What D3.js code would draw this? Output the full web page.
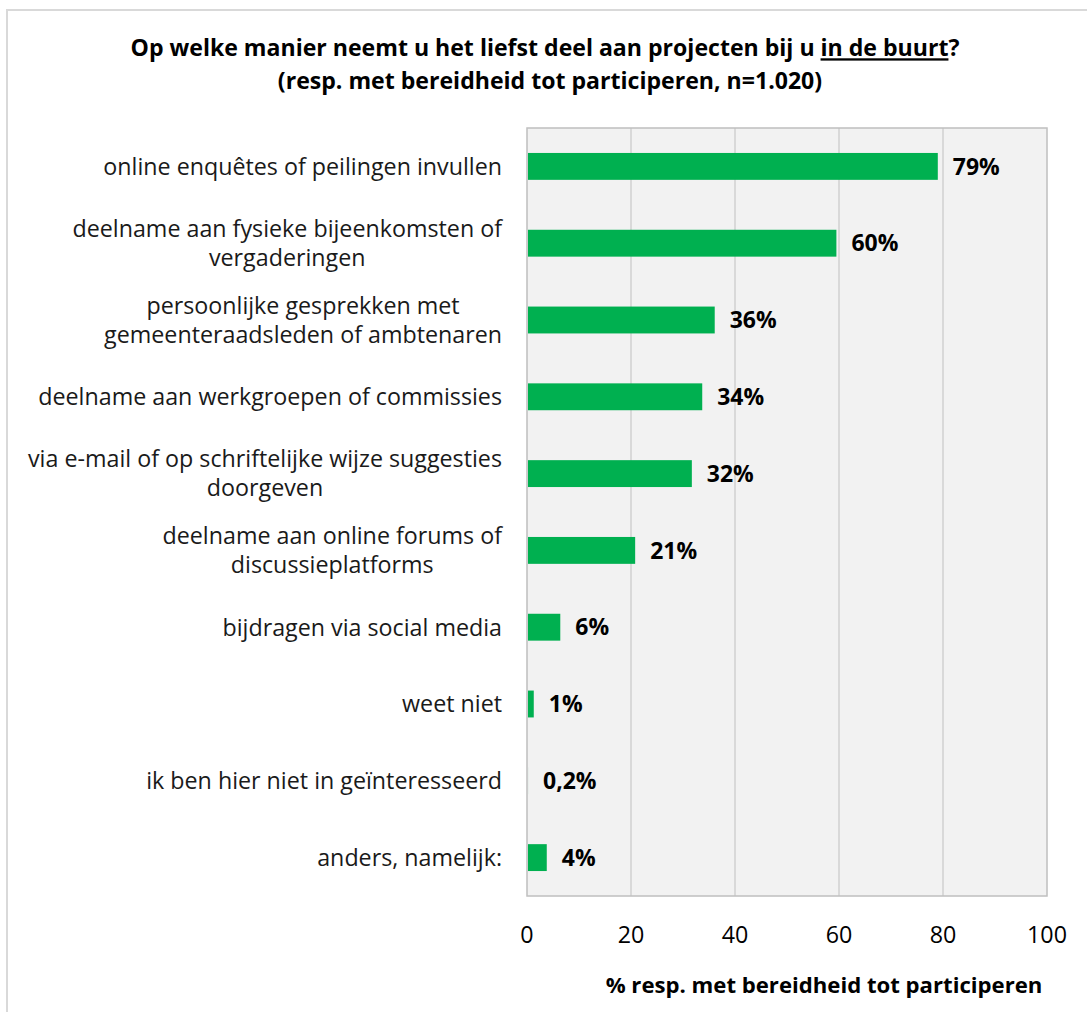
<!DOCTYPE html>
<html><head><meta charset="utf-8">
<script src="https://cdn.jsdelivr.net/npm/d3@7"></script>
<style>body{margin:0;background:#fff}svg{display:block}text{font-family:"Open Sans",sans-serif}</style>
</head><body>
<svg id="c" width="1087" height="1012"></svg>
<script>
const categories = [
  ["online enquêtes of peilingen invullen"],
  ["deelname aan fysieke bijeenkomsten of","vergaderingen"],
  ["persoonlijke gesprekken met","gemeenteraadsleden of ambtenaren"],
  ["deelname aan werkgroepen of commissies"],
  ["via e-mail of op schriftelijke wijze suggesties","doorgeven"],
  ["deelname aan online forums of","discussieplatforms"],
  ["bijdragen via social media"],
  ["weet niet"],
  ["ik ben hier niet in geïnteresseerd"],
  ["anders, namelijk:"]
];
const values = [79.0, 59.5, 36.1, 33.7, 31.7, 20.8, 6.4, 1.3, 0.2, 3.8];
const valueLabels = ["79%","60%","36%","34%","32%","21%","6%","1%","0,2%","4%"];
const xTicks = [0,20,40,60,80,100];
const titleLines = ["Op welke manier neemt u het liefst deel aan projecten bij u ", "in de buurt", "?"];
const subtitle = "(resp. met bereidheid tot participeren, n=1.020)";
const axisTitle = "% resp. met bereidheid tot participeren";

const svg = d3.select("#c");
function fitSize(str, weight, target){
  const t = svg.append("text").attr("font-size",20).attr("font-weight",weight).text(str);
  const w = t.node().getComputedTextLength(); t.remove();
  return 20*target/w;
}
const fsCat = fitSize("online enquêtes of peilingen invullen","normal",399);
const fsTitle = fitSize(titleLines.join(""),"bold",829);
const fsAxis = fitSize(axisTitle,"bold",437);
const fsVal = fitSize("79%","bold",47);

svg.append("path").attr("d","M7,1012 V10 H1087").attr("fill","none").attr("stroke","#d9d9d9").attr("stroke-width",2);

const L=527, R=1047, T=128, B=896;
const x = d3.scaleLinear().domain([0,100]).range([L,R]);
const y = d3.scaleBand().domain(d3.range(categories.length)).range([T,B]).paddingInner(0.65).paddingOuter(0.325);

svg.append("rect").attr("x",L).attr("y",T).attr("width",R-L).attr("height",B-T).attr("fill","#f2f2f2");
svg.append("g").selectAll("line").data(xTicks.slice(1,-1)).join("line")
  .attr("x1",d=>x(d)).attr("x2",d=>x(d)).attr("y1",T).attr("y2",B)
  .attr("stroke","#d9d9d9").attr("stroke-width",2);
svg.append("rect").attr("x",L).attr("y",T).attr("width",R-L).attr("height",B-T)
  .attr("fill","none").attr("stroke","#bfbfbf").attr("stroke-width",1.5);

svg.append("g").selectAll("rect").data(values).join("rect")
  .attr("x",x(0)+1).attr("y",(d,i)=>y(i)).attr("width",d=>Math.max(0,x(d)-x(0)-1)).attr("height",y.bandwidth())
  .attr("fill","#00b050");

svg.append("g").selectAll("text").data(values).join("text")
  .attr("x",d=>x(d)+15).attr("y",(d,i)=>y(i)+y.bandwidth()/2).attr("dy","0.36em")
  .attr("font-size",fsVal).attr("font-weight","bold").attr("fill","#000")
  .text((d,i)=>valueLabels[i]);

const catG = svg.append("g");
categories.forEach((lines,i)=>{
  const cy = y(i)+y.bandwidth()/2;
  const lh = 29;
  const g = catG.append("g");
  const texts = lines.map((ln,k)=>g.append("text")
    .attr("y", cy + (k-(lines.length-1)/2)*lh).attr("dy","0.36em")
    .attr("font-size",fsCat).attr("fill","#1a1a1a").text(ln));
  const maxW = d3.max(texts.map(t=>t.node().getComputedTextLength()));
  const cx = 502 - maxW/2;
  texts.forEach(t=>t.attr("x",cx).attr("text-anchor","middle"));
});

svg.append("g").selectAll("text").data(xTicks).join("text")
  .attr("x",d=>x(d)).attr("y",935).attr("dy","0.36em").attr("text-anchor","middle")
  .attr("font-size",fsCat).attr("fill","#000").text(d=>d);

svg.append("text").attr("x",824).attr("y",985).attr("dy","0.36em").attr("text-anchor","middle")
  .attr("font-size",fsAxis).attr("font-weight","bold").attr("fill","#000").text(axisTitle);

const t1 = svg.append("text").attr("x",545).attr("y",48).attr("dy","0.36em").attr("text-anchor","middle")
  .attr("font-size",fsTitle).attr("font-weight","bold").attr("fill","#000");
t1.append("tspan").text(titleLines[0]);
t1.append("tspan").attr("text-decoration","underline").text(titleLines[1]);
t1.append("tspan").text(titleLines[2]);
svg.append("text").attr("x",550).attr("y",81).attr("dy","0.36em").attr("text-anchor","middle")
  .attr("font-size",fsTitle).attr("font-weight","bold").attr("fill","#000").text(subtitle);
</script>
</body></html>
